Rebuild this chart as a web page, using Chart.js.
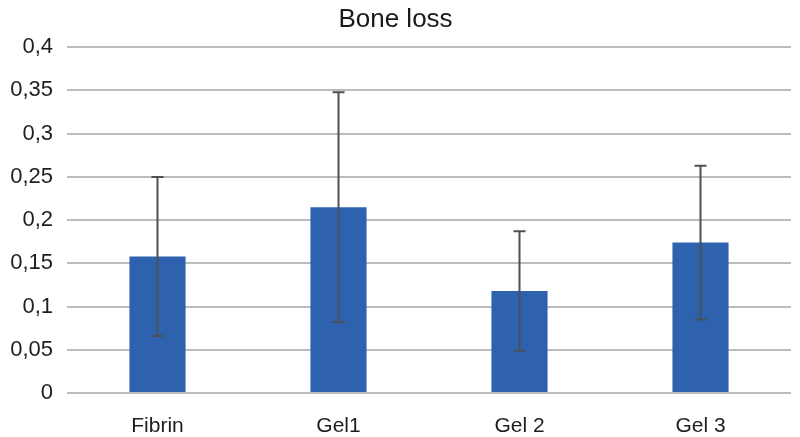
<!DOCTYPE html>
<html>
<head>
<meta charset="utf-8">
<script src="https://cdn.jsdelivr.net/npm/chart.js@4/dist/chart.umd.min.js"></script>
<style>
  body { margin: 0; background: #fff; }
</style>
</head>
<body>
<canvas id="myChart" width="800" height="437"></canvas>
<script>
// Bone loss per material (mean and error bar half-length)
const groups = ["Fibrin", "Gel1", "Gel 2", "Gel 3"];
const boneLoss = [0.158, 0.215, 0.118, 0.174];
const errors = [0.092, 0.133, 0.069, 0.089];

// Draw error bars on top of the bars using the chart's own scales
const errorBars = {
  id: "errorBars",
  afterDatasetsDraw(chart) {
    const ctx = chart.ctx;
    const y = chart.scales.y;
    const meta = chart.getDatasetMeta(0);
    ctx.save();
    ctx.strokeStyle = "#4b5156";
    ctx.lineWidth = 2;
    meta.data.forEach((bar, i) => {
      const top = y.getPixelForValue(boneLoss[i] + errors[i]);
      const bottom = y.getPixelForValue(boneLoss[i] - errors[i]);
      ctx.beginPath();
      ctx.moveTo(bar.x, top);
      ctx.lineTo(bar.x, bottom);
      ctx.moveTo(bar.x - 6, top);
      ctx.lineTo(bar.x + 6, top);
      ctx.moveTo(bar.x - 6, bottom);
      ctx.lineTo(bar.x + 6, bottom);
      ctx.stroke();
    });
    ctx.restore();
  }
};

const ctx = document.getElementById("myChart").getContext("2d");

new Chart(ctx, {
  type: "bar",
  data: {
    labels: groups,
    datasets: [{
      data: boneLoss,
      backgroundColor: "#2e62ae",
      barPercentage: 0.62,
      categoryPercentage: 0.5
    }]
  },
  plugins: [errorBars],
  options: {
    responsive: false,
    animation: false,
    layout: { padding: { left: 0, right: 9, top: 0, bottom: 0 } },
    plugins: {
      legend: { display: false },
      tooltip: { enabled: false },
      title: {
        display: true,
        text: "Bone loss",
        color: "#1a1a1a",
        font: { family: "Liberation Sans", size: 26, weight: "normal" },
        padding: { top: 4, bottom: 12 }
      }
    },
    scales: {
      x: {
        grid: { display: false },
        border: { display: false },
        ticks: {
          color: "#1e1e1e",
          font: { family: "Liberation Sans", size: 21 },
          padding: 13
        },
        afterFit(scale) { scale.height = 44; }
      },
      y: {
        min: 0,
        max: 0.4,
        border: { display: false },
        grid: { color: "#bcbcbc", lineWidth: 2, drawTicks: false },
        ticks: {
          stepSize: 0.05,
          color: "#1e1e1e",
          padding: 14,
          font: { family: "Liberation Sans", size: 22 },
          callback: (v) => String(Math.round(v * 100) / 100).replace(".", ",")
        },
        afterFit(scale) { scale.width = 67; }
      }
    }
  }
});
</script>
</body>
</html>
